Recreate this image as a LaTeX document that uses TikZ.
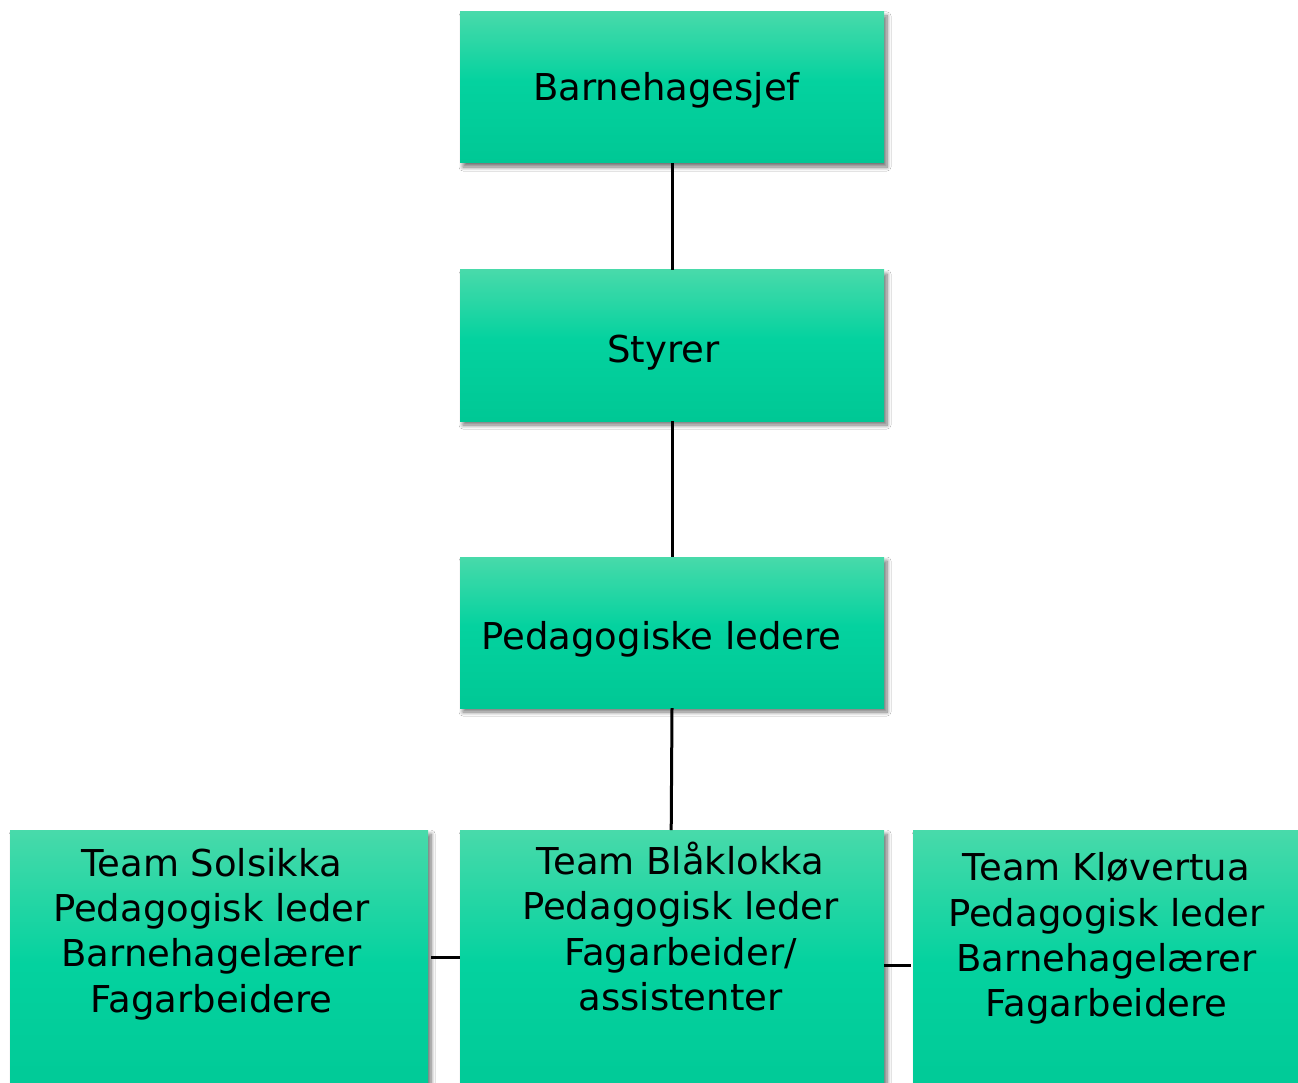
\documentclass[tikz,border=0pt]{standalone}
\usepackage{fontspec}
\setmainfont{DejaVu Sans}
\usetikzlibrary{shadows.blur}

\definecolor{boxtop}{HTML}{48DAAA}
\definecolor{boxmid}{HTML}{04D29F}
\definecolor{boxbot}{HTML}{00C895}

% light at the top, green from the middle, a little darker at the foot
\pgfdeclareverticalshading{orgshade}{100bp}{color(0bp)=(boxbot); color(25bp)=(boxbot);
  color(52bp)=(boxmid); color(75bp)=(boxtop); color(100bp)=(boxtop)}

\newlength{\du}
\setlength{\du}{1pt}

\tikzset{
  orgbox/.style={rectangle, inner sep=0pt, shading=orgshade,
    blur shadow={shadow xshift=3pt, shadow yshift=-4pt, shadow opacity=55,
      shadow blur radius=4pt, shadow blur steps=8}},
  orglabel/.style={inner sep=0pt, anchor=base, font=\fontsize{37}{45.3}\selectfont},
  orgtext/.style={align=center, inner sep=0pt, anchor=north,
    font=\fontsize{37}{45.3}\selectfont},
  conn/.style={line width=3\du, black}
}

\begin{document}
\begin{tikzpicture}[x=1\du, y=-1\du]
\useasboundingbox (0,0) rectangle (1298,1083);
\clip (0,0) rectangle (1298,1083);
\fill[white] (0,0) rectangle (1298,1083);

% upper chain
\node[orgbox, minimum width=424\du, minimum height=151\du] (sjef) at (672,87.5) {};
\node[orgbox, minimum width=424\du, minimum height=151\du] (styrer) at (672,345.5) {};
\node[orgbox, minimum width=424\du, minimum height=151\du] (ped) at (672,632.5) {};
\node[orglabel] (sjeftxt) at (666.5,101) {Barnehagesjef};
\node[orglabel] (styrertxt) at (663.5,362.7) {Styrer};
\node[orglabel] (pedtxt) at (661.5,649.3) {Pedagogiske ledere};

% teams
\node[orgbox, minimum width=418\du, minimum height=290\du, anchor=north west] (solsikka) at (10,830) {};
\node[orgbox, minimum width=424\du, minimum height=290\du, anchor=north west] (blaklokka) at (460,830) {};
\node[orgbox, minimum width=392\du, minimum height=290\du, anchor=north west] (klovertua) at (913,830) {};

\node[orgtext] (solsikkatxt) at (211.5,848) {Team Solsikka\\Pedagogisk leder\\Barnehagelærer\\Fagarbeidere};
\node[orgtext] (blaklokkatxt) at (680.5,842) {Team Blåklokka\\Pedagogisk leder\\Fagarbeider/\\assistenter};
\node[orgtext] (klovertuatxt) at (1106.5,852.5) {Team Kløvertua\\Pedagogisk leder\\Barnehagelærer\\Fagarbeidere};

% connectors
\draw[conn] (sjef.south) -- (styrer.north);
\draw[conn] (styrer.south) -- (ped.north);
\draw[conn] (ped.south) -- ([xshift=-1\du]blaklokka.north);
\draw[conn] ([xshift=3\du]solsikka.east |- 0,957) -- (blaklokka.west |- 0,957);
\draw[conn] (blaklokka.east |- 0,965) -- ([xshift=-2\du]klovertua.west |- 0,965);
\end{tikzpicture}
\end{document}
